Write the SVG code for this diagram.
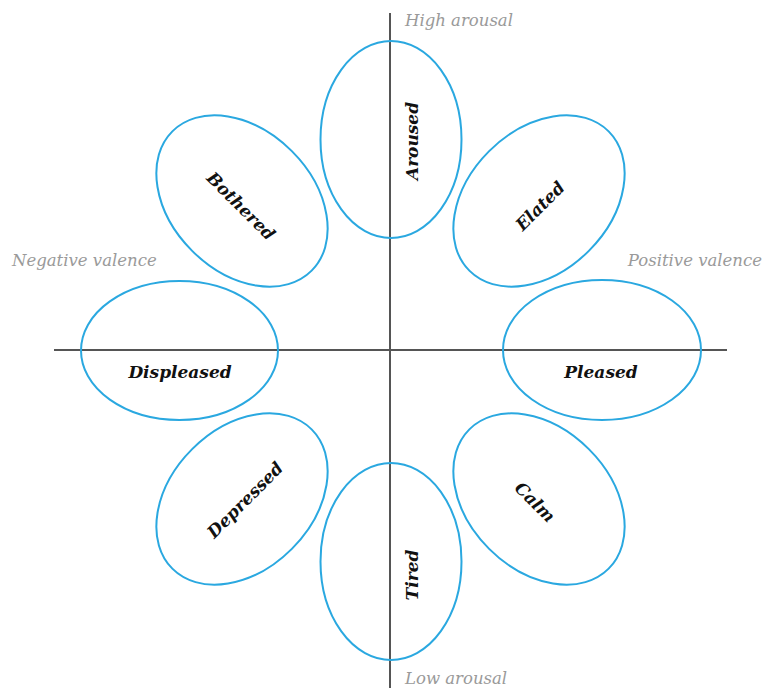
<svg xmlns="http://www.w3.org/2000/svg" width="764" height="690" viewBox="0 0 764 690">
<style>
.ell{fill:none;stroke:#2aa8e0;stroke-width:2}
.lbl{font-family:"DejaVu Serif","Liberation Serif",serif;font-weight:bold;font-style:italic;font-size:17px;fill:#111;text-anchor:middle;dominant-baseline:central}
.ax{font-family:"DejaVu Serif","Liberation Serif",serif;font-style:italic;font-size:16.5px;fill:#9a9a9a}
.axis{stroke:#555;stroke-width:2}
</style>
<rect width="764" height="690" fill="#fff"/>
<g id="axes">
<line class="axis" x1="390" y1="13" x2="390" y2="688"/>
<line class="axis" x1="54" y1="350" x2="727" y2="350"/>
<text class="ax" x="405" y="26">High arousal</text>
<text class="ax" x="405" y="684">Low arousal</text>
<text class="ax" x="12" y="266">Negative valence</text>
<text class="ax" x="762" y="266" text-anchor="end">Positive valence</text>
</g>
<g id="aroused">
<ellipse class="ell" cx="391" cy="139.5" rx="70.5" ry="98.5"/>
<text class="lbl" transform="translate(412,141) rotate(-90)">Aroused</text>
</g>
<g id="tired">
<ellipse class="ell" cx="391" cy="561.5" rx="70.5" ry="98.5"/>
<text class="lbl" transform="translate(412,575) rotate(-90)">Tired</text>
</g>
<g id="displeased">
<ellipse class="ell" cx="179.5" cy="350.5" rx="98.5" ry="69.5"/>
<text class="lbl" x="180" y="372">Displeased</text>
</g>
<g id="pleased">
<ellipse class="ell" cx="602" cy="350" rx="99" ry="70"/>
<text class="lbl" x="601" y="372">Pleased</text>
</g>
<g id="bothered">
<ellipse class="ell" transform="translate(242,201) rotate(45)" cx="0" cy="0" rx="98.5" ry="70.5"/>
<text class="lbl" transform="translate(241,206) rotate(45)">Bothered</text>
</g>
<g id="elated">
<ellipse class="ell" transform="translate(539,201) rotate(-45)" cx="0" cy="0" rx="98.5" ry="70.5"/>
<text class="lbl" transform="translate(540,206) rotate(-45)">Elated</text>
</g>
<g id="calm">
<ellipse class="ell" transform="translate(539,499) rotate(45)" cx="0" cy="0" rx="98.5" ry="70.5"/>
<text class="lbl" transform="translate(535,502) rotate(45)">Calm</text>
</g>
<g id="depressed">
<ellipse class="ell" transform="translate(242,499) rotate(-45)" cx="0" cy="0" rx="98.5" ry="70.5"/>
<text class="lbl" transform="translate(245,500) rotate(-45)">Depressed</text>
</g>
<g id="connectors"></g>
</svg>
